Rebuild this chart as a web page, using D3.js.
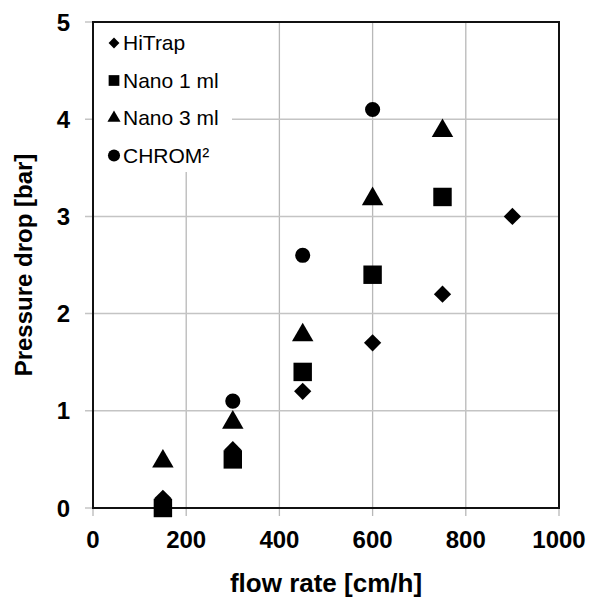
<!DOCTYPE html>
<html>
<head>
<meta charset="utf-8">
<script src="https://cdn.jsdelivr.net/npm/d3@7"></script>
<style>
  body { margin: 0; background: #fff; }
  text { font-family: "Liberation Sans", Arial, sans-serif; }
</style>
</head>
<body>
<div id="chart"></div>
<script>
// flow rate [cm/h] vs pressure drop [bar]
var hitrapFlow = [150, 300, 450, 600, 750, 900];
var hitrapDrop = [0.1, 0.6, 1.2, 1.7, 2.2, 3.0];

var nano1Flow = [150, 300, 450, 600, 750];
var nano1Drop = [0.0, 0.5, 1.4, 2.4, 3.2];

var nano3Flow = [150, 300, 450, 600, 750];
var nano3Drop = [0.5, 0.9, 1.8, 3.2, 3.9];

var chromFlow = [150, 300, 450, 600];
var chromDrop = [0.05, 1.1, 2.6, 4.1];

var seriesNames = ["HiTrap", "Nano 1 ml", "Nano 3 ml", "CHROM\u00b2"];
var xTicks = [0, 200, 400, 600, 800, 1000];
var yTicks = [0, 1, 2, 3, 4, 5];

var margin = {top: 22, right: 30, bottom: 92, left: 93},
    width = 589 - margin.left - margin.right,
    height = 600 - margin.top - margin.bottom;

var svg = d3.select("#chart").append("svg")
    .attr("width", 589)
    .attr("height", 600);

var plot = svg.append("g")
    .attr("transform", "translate(" + margin.left + "," + margin.top + ")");

var x = d3.scaleLinear().domain([0, 1000]).range([0, width]);
var y = d3.scaleLinear().domain([0, 5]).range([height, 0]);

// grid lines (they also make the outward tick marks)
plot.selectAll(".vgrid")
    .data(xTicks)
    .enter().append("line")
    .attr("x1", function(d) { return x(d); })
    .attr("x2", function(d) { return x(d); })
    .attr("y1", 0)
    .attr("y2", height + 8)
    .attr("stroke", "#b8b8b8")
    .attr("stroke-width", 1.3);

plot.selectAll(".hgrid")
    .data(yTicks)
    .enter().append("line")
    .attr("x1", -8)
    .attr("x2", width)
    .attr("y1", function(d) { return y(d); })
    .attr("y2", function(d) { return y(d); })
    .attr("stroke", "#c4c4c4")
    .attr("stroke-width", 1.5);

// legend background hides the grid behind it
plot.append("rect")
    .attr("x", 0)
    .attr("y", 0)
    .attr("width", 139)
    .attr("height", 150)
    .attr("fill", "#fff");

// plot frame
plot.append("rect")
    .attr("x", 0)
    .attr("y", 0)
    .attr("width", width)
    .attr("height", height)
    .attr("fill", "none")
    .attr("stroke", "#111")
    .attr("stroke-width", 2);

// tick labels
plot.selectAll(".xlab")
    .data(xTicks)
    .enter().append("text")
    .attr("x", function(d) { return x(d); })
    .attr("y", height + 40)
    .attr("text-anchor", "middle")
    .style("font-size", "24px")
    .style("font-weight", "bold")
    .text(function(d) { return d; });

plot.selectAll(".ylab")
    .data(yTicks)
    .enter().append("text")
    .attr("x", -23)
    .attr("y", function(d) { return y(d); })
    .attr("dy", "0.36em")
    .attr("text-anchor", "end")
    .style("font-size", "24px")
    .style("font-weight", "bold")
    .text(function(d) { return d; });

// axis titles
svg.append("text")
    .attr("x", margin.left + width / 2)
    .attr("y", 592)
    .attr("text-anchor", "middle")
    .style("font-size", "26px")
    .style("font-weight", "bold")
    .text("flow rate [cm/h]");

svg.append("text")
    .attr("transform", "translate(32," + (margin.top + height / 2) + ") rotate(-90)")
    .attr("text-anchor", "middle")
    .style("font-size", "24px")
    .style("font-weight", "bold")
    .text("Pressure drop [bar]");

// markers
var shapes = [
  d3.symbol().type(d3.symbolDiamond2).size(190),
  d3.symbol().type(d3.symbolSquare).size(340),
  d3.symbol().type(d3.symbolTriangle).size(200),
  d3.symbol().type(d3.symbolCircle).size(180)
];
var legendShapes = [
  d3.symbol().type(d3.symbolDiamond2).size(75),
  d3.symbol().type(d3.symbolSquare).size(115),
  d3.symbol().type(d3.symbolTriangle).size(75),
  d3.symbol().type(d3.symbolCircle).size(115)
];

var allFlows = [hitrapFlow, nano1Flow, nano3Flow, chromFlow];
var allDrops = [hitrapDrop, nano1Drop, nano3Drop, chromDrop];

// draw in reverse so HiTrap diamonds sit on top
for (var s = 3; s >= 0; s--) {
  var pts = allFlows[s].map(function(f, i) { return [f, allDrops[s][i]]; });
  plot.selectAll(".s" + s)
      .data(pts)
      .enter().append("path")
      .attr("d", shapes[s])
      .attr("transform", function(d) {
        var dy = s === 2 ? 2 : 0;
        return "translate(" + x(d[0]) + "," + (y(d[1]) + dy) + ")";
      })
      .attr("fill", "#000");
}

// legend
var legend = plot.selectAll(".legend")
    .data(seriesNames)
    .enter().append("g")
    .attr("transform", function(d, i) { return "translate(0," + (21 + i * 37.5) + ")"; });

legend.append("path")
    .attr("d", function(d, i) { return legendShapes[i](); })
    .attr("transform", "translate(21,0)")
    .attr("fill", "#000");

legend.append("text")
    .attr("x", 30)
    .attr("dy", "0.35em")
    .style("font-size", "21px")
    .text(function(d) { return d; });
</script>
</body>
</html>
